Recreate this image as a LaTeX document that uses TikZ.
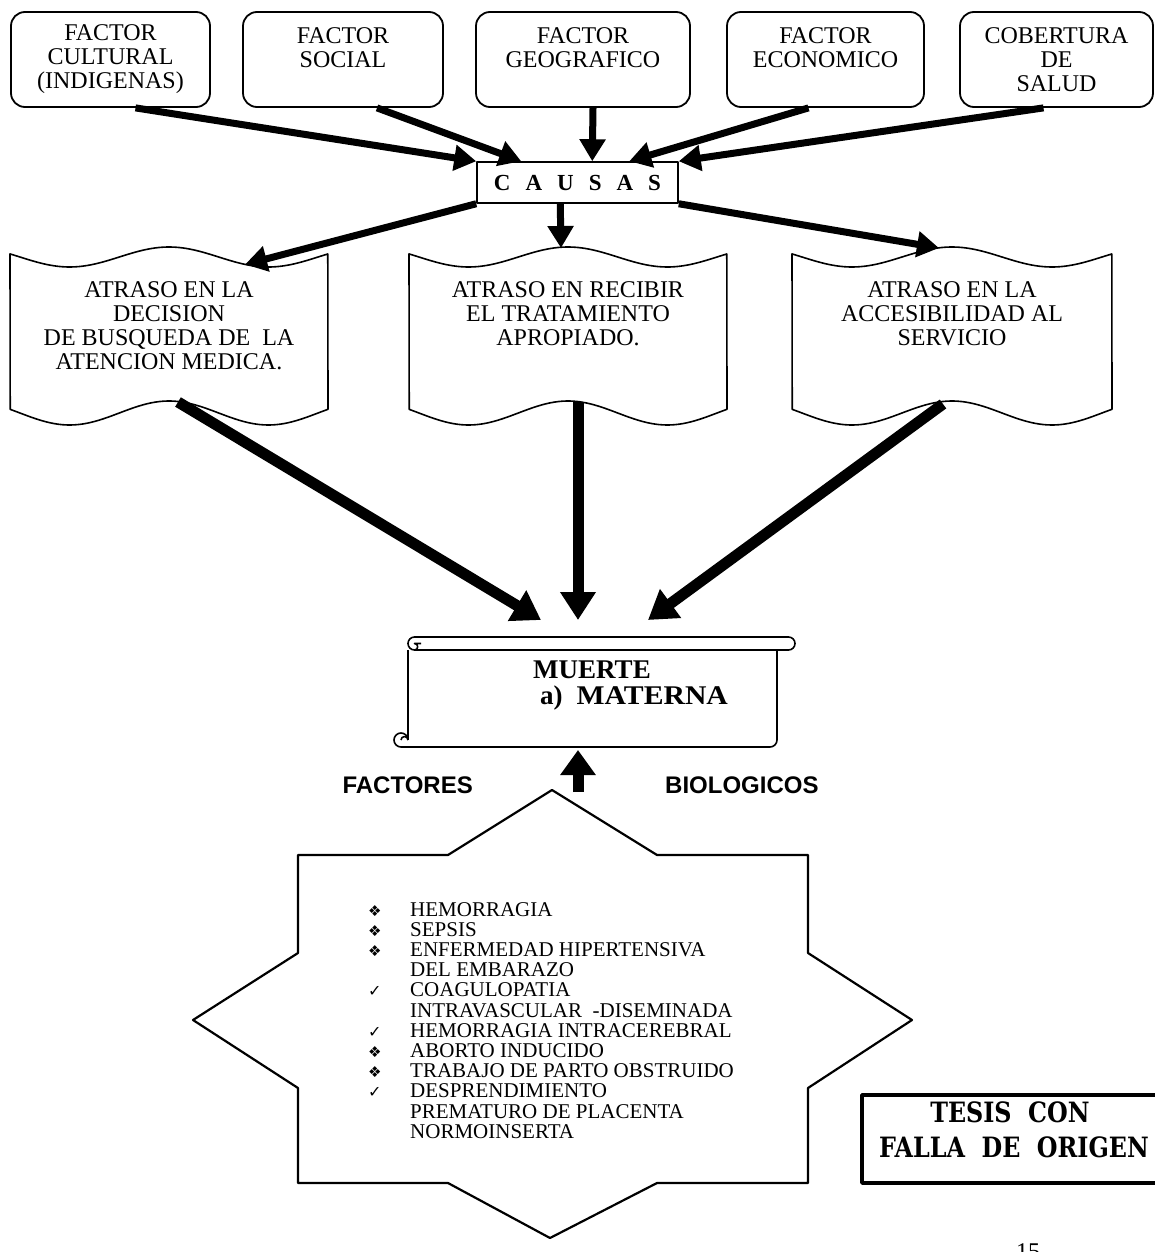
\documentclass[tikz,border=0pt]{standalone}
\usepackage{fontspec}
\usepackage{graphicx}
\setmainfont{Liberation Serif}
\newfontfamily\arialfont{Liberation Sans}
\newfontfamily\simbolos{DejaVu Sans}
\newfontfamily\sellofont{DejaVu Serif}
\usetikzlibrary{arrows.meta,calc}
\newcommand{\rombo}{{\simbolos\fontsize{15}{15}\selectfont ❖}}
\newcommand{\palomita}{{\simbolos\fontsize{16}{16}\selectfont ✓}}
% hoja ondulada: borde izquierdo, borde derecho
\newcommand{\hoja}[2]{%
  \draw[hoja] plot[domain=0:1,samples=80,smooth] ({#1+\x*(#2-#1)},{257-10*cos(576*(\x-0.5))})
    -- plot[domain=1:0,samples=80,smooth] ({#1+\x*(#2-#1)},{413-12*cos(576*(\x-0.5))}) -- cycle;}
\begin{document}
\begin{tikzpicture}[x=1pt,y=-1pt,line join=round,
  caja/.style={draw,line width=1.8pt,rounded corners=14pt,align=center,inner sep=0pt,
    minimum height=95pt,font=\fontsize{24}{24}\selectfont},
  hoja/.style={line width=1.6pt},
  texto/.style={align=center,inner sep=0pt,anchor=north,font=\fontsize{24}{24}\selectfont},
  flecha/.style={line width=7pt,-{Triangle[length=22pt,width=25pt]}},
  flechagrande/.style={line width=11pt,-{Triangle[length=28pt,width=34pt]}},
  rollo/.style={line width=1.6pt}]
\useasboundingbox (0,0) rectangle (1154,1252);
% factores
\node[caja,minimum width=199pt] (cultural) at (110.5,59.5) {FACTOR\\CULTURAL\\(INDIGENAS)};
\node[caja,minimum width=200pt] (social) at (343,59.5) {FACTOR\\SOCIAL\\\mbox{}};
\node[caja,minimum width=214pt] (geografico) at (583,59.5) {FACTOR\\GEOGRAFICO\\\mbox{}};
\node[caja,minimum width=197pt] (economico) at (825.5,59.5) {FACTOR\\ECONOMICO\\\mbox{}};
\node[caja,minimum width=193pt] (cobertura) at (1056.5,59.5) {COBERTURA\\DE\\SALUD};
\node[draw,line width=1.5pt,minimum width=201pt,minimum height=41pt,inner sep=0pt,
  font=\bfseries\fontsize{23}{23}\selectfont] (causas) at (577.5,182.5)
  {C\hspace{15pt}A\hspace{15pt}U\hspace{15pt}S\hspace{15pt}A\hspace{15pt}S};
\draw[flecha] ($(cultural.south)+(25,0)$) -- (causas.north west);
\draw[flecha] ($(social.south)+(34,0)$) -- ($(causas.north west)+(45,0)$);
\draw[flecha] ($(geografico.south)+(10,0)$) -- ($(causas.north west)+(116,0)$);
\draw[flecha] ($(economico.south)+(-17,0)$) -- ($(causas.north west)+(153,0)$);
\draw[flecha] ($(cobertura.south)+(-13,0)$) -- (causas.north east);
% atrasos
\hoja{10}{328}
\hoja{409}{727}
\hoja{792}{1112}
\node[texto] (decision) at (169,281) {ATRASO EN LA\\DECISION\\DE BUSQUEDA DE\ \ LA\\ATENCION MEDICA.};
\node[texto] (tratamiento) at (568,281) {ATRASO EN RECIBIR\\EL TRATAMIENTO\\APROPIADO.};
\node[texto] (servicio) at (952,281) {ATRASO EN LA\\ACCESIBILIDAD AL\\SERVICIO};
\coordinate (d1in) at (245,264.5);
\coordinate (d2in) at (561,248);
\coordinate (d3in) at (939,248);
\coordinate (d1out) at (178,402);
\coordinate (d2out) at (578,402);
\coordinate (d3out) at (943,404);
\draw[flecha] (causas.south west) -- (d1in);
\draw[flecha] ($(causas.south west)+(84,0)$) -- (d2in);
\draw[flecha] (causas.south east) -- (d3in);
% muerte
\coordinate (m1) at (541,620);
\coordinate (m2) at (578,620);
\coordinate (m3) at (648,620);
\draw[flechagrande] (d1out) -- (m1);
\draw[flechagrande] (d2out) -- (m2);
\draw[flechagrande] (d3out) -- (m3);
\draw[rollo] (414.5,637) -- (788.5,637) arc[start angle=-90,end angle=90,radius=6.5] -- (414.5,650)
  arc[start angle=90,end angle=270,radius=6.5];
\draw[rollo] (414.5,650) arc[start angle=90,end angle=-90,radius=3.25] -- (421,643.5);
\draw[rollo] (408,650) -- (408,740);
\draw[rollo] (777,650) -- (777,740) arc[start angle=0,end angle=90,radius=7] -- (401,747)
  arc[start angle=90,end angle=360,radius=7];
\draw[rollo] (408,740) arc[start angle=0,end angle=-180,radius=3.5];
\node[anchor=base west,inner sep=0pt,font=\bfseries\fontsize{27}{27}\selectfont] (muerte) at (533,678) {MUERTE};
\node[anchor=base west,inner sep=0pt,font=\bfseries\fontsize{27}{27}\selectfont] (materna) at (540,704)
  {a)\hspace{14pt}\scalebox{1.1}[1]{MATERNA}};
% factores biologicos
\node[anchor=base east,inner sep=0pt,font=\arialfont\bfseries\fontsize{24}{24}\selectfont] (factores) at (473,793) {FACTORES};
\node[anchor=base west,inner sep=0pt,font=\arialfont\bfseries\fontsize{24}{24}\selectfont] (biologicos) at (665,793) {BIOLOGICOS};
\coordinate (b0) at (578,792);
\coordinate (b1) at (578,750);
\draw[line width=11pt,-{Triangle[length=25pt,width=34pt]}] (b0) -- (b1);
\draw[line width=2.2pt] (298,855) -- (448,855) -- (552,790) -- (657,855) -- (808,855) -- (808,953)
  -- (912,1020) -- (808,1088) -- (808,1183) -- (657,1183) -- (550,1238) -- (448,1183)
  -- (298,1183) -- (298,1088) -- (193,1020) -- (298,953) -- cycle;
\node[anchor=base west,inner sep=0pt,font=\fontsize{21}{20.2}\selectfont] (lista) at (368,916)
  {\begin{tabular}[t]{@{}p{42pt}@{}l@{}}
  \rombo & HEMORRAGIA\\
  \rombo & SEPSIS\\
  \rombo & ENFERMEDAD HIPERTENSIVA\\
         & DEL EMBARAZO\\
  \palomita & COAGULOPATIA\\
         & INTRAVASCULAR\ \ -DISEMINADA\\
  \palomita & HEMORRAGIA INTRACEREBRAL\\
  \rombo & ABORTO INDUCIDO\\
  \rombo & TRABAJO DE PARTO OBSTRUIDO\\
  \palomita & DESPRENDIMIENTO\\
         & PREMATURO DE PLACENTA\\
         & NORMOINSERTA
  \end{tabular}};
% sello
\draw[line width=3.5pt] (1160,1095) -- (862,1095) -- (862,1183) -- (1160,1183);
\node[anchor=base,inner sep=0pt] (tesis) at (1010,1122)
  {\scalebox{0.85}[1]{\sellofont\bfseries\fontsize{28}{28}\selectfont TESIS\ \ CON}};
\node[anchor=base,inner sep=0pt] (falla) at (1014,1157)
  {\scalebox{0.85}[1]{\sellofont\bfseries\fontsize{28}{28}\selectfont FALLA\ \ DE\ \ ORIGEN}};
\node[anchor=base,inner sep=0pt,font=\fontsize{24}{24}\selectfont] (pagina) at (1028,1259) {15};
\end{tikzpicture}
\end{document}
